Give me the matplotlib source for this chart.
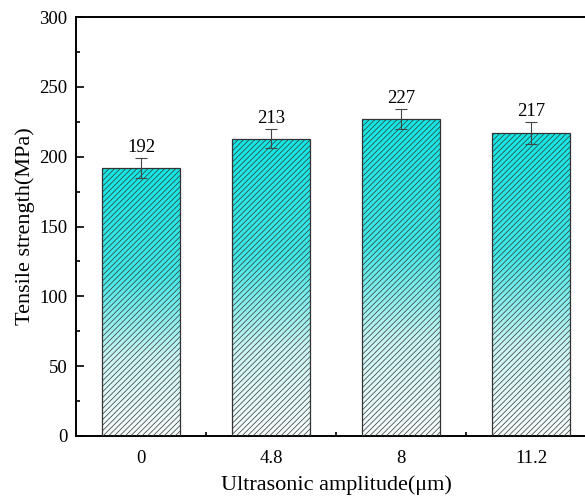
import numpy as np
import matplotlib.pyplot as plt
from matplotlib.colors import LinearSegmentedColormap
from matplotlib.ticker import MultipleLocator, FixedLocator

amplitudes = ['0', '4.8', '8', '11.2']
strength = [192, 213, 227, 217]
errors = [7, 7, 7, 8]

plt.rcParams['font.family'] = ['Liberation Serif', 'DejaVu Serif']
plt.rcParams['hatch.linewidth'] = 0.5
plt.rcParams['hatch.color'] = '#4a4a4a'

fig = plt.figure(figsize=(5.85, 4.99), dpi=100)
# axes run a little past the right edge of the figure
ax = fig.add_axes([76 / 585, 63 / 499, 520 / 585, 419 / 499])

x = np.arange(len(amplitudes))
width = 0.6
cmap = LinearSegmentedColormap.from_list(
    'fade', [(0.0, '#f7fcfc'), (0.3, '#c8f5f4'), (0.6, '#40e8e6'), (1.0, '#14e6e3')])
grad = np.linspace(0, 1, 256).reshape(-1, 1)

bars = ax.bar(x, strength, width, facecolor='none', edgecolor='#333333',
              linewidth=0.9, hatch='//////', zorder=3)
for bar in bars:
    x0, w, h = bar.get_x(), bar.get_width(), bar.get_height()
    im = ax.imshow(grad, cmap=cmap, origin='lower', aspect='auto',
                   extent=(x0, x0 + w, 0, h), zorder=2)
    im.set_clip_path(bar)

ax.errorbar(x, strength, yerr=errors, fmt='none', ecolor='#444444',
            elinewidth=0.8, capsize=4, capthick=0.8, zorder=4)
for xi, v, e in zip(x, strength, errors):
    ax.text(xi, v + e + 1.5, str(v), ha='center', va='bottom', fontsize=13.5)

ax.set_xlim(-0.5, 3.5)
ax.set_ylim(0, 300)
ax.set_xticks(x)
ax.set_xticklabels(amplitudes)
ax.xaxis.set_minor_locator(FixedLocator(x[:-1] + 0.5))
ax.yaxis.set_major_locator(MultipleLocator(50))
ax.yaxis.set_minor_locator(MultipleLocator(25))
ax.tick_params(which='both', direction='in', labelsize=13.5, width=1.2, top=False, right=False)
ax.tick_params(which='major', length=6)
ax.tick_params(which='minor', length=3)
ax.tick_params(axis='x', pad=10)
ax.tick_params(axis='y', pad=6)
for s in ['left', 'bottom', 'top']:
    ax.spines[s].set_linewidth(1.4)
ax.spines['right'].set_visible(False)

ax.set_xlabel('Ultrasonic amplitude(μm)', fontsize=16, labelpad=6)
ax.set_ylabel('Tensile strength(MPa)', fontsize=16, labelpad=3)

fig.savefig('out.png', dpi=100)
